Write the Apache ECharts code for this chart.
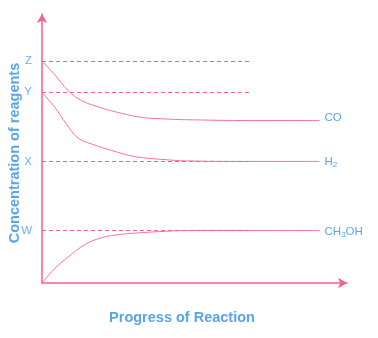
<!DOCTYPE html>
<html>
<head>
<meta charset="utf-8">
<script src="https://cdn.jsdelivr.net/npm/echarts@6/dist/echarts.min.js"></script>
<style>html,body{margin:0;padding:0;background:#fff}#c{width:378px;height:338px}</style>
</head>
<body>
<div id="c"></div>
<script>
// Tick labels on the concentration axis
const tickValues = [19.5, 45.2, 70.9, 82.5];
const tickLabels = ['W', 'X', 'Y', 'Z'];

// Progress (x) and concentration (y)
const coX = [0, 4.2, 8.6, 13, 19.5, 26, 32.6, 40, 47.4, 68, 91];
const coY = [82.5, 77.4, 71.5, 67.8, 65.1, 63.1, 61.6, 61, 60.7, 60.4, 60.4];
const h2X = [0, 4.2, 8, 11.8, 16.2, 22.8, 30.4, 40, 47.4, 68, 91];
const h2Y = [70.9, 65.3, 59.1, 53.9, 51.7, 49.3, 47, 45.9, 45.4, 45.2, 45.2];
const meX = [0, 4.2, 8.6, 14.1, 19.5, 26, 32.6, 40, 47.4, 68, 91];
const meY = [0, 5.4, 9.7, 14.3, 16.8, 18.1, 18.7, 19.2, 19.5, 19.5, 19.5];

// Reference (dashed) levels and where they stop
const refLevels = [82.5, 70.9, 45.2, 19.5];
const refEnd = 68;

const seriesNames = ['CO', 'H2', 'CH3OH'];

const pink = '#f2628f';
const curve = '#f7739c';
const blue = '#5aa5e8';
const font = '"Liberation Sans", Arial, sans-serif';

function zip(xs, ys) { return xs.map((x, i) => [x, ys[i]]); }

const chart = echarts.init(document.getElementById('c'), null, {renderer: 'canvas'});

const labelRich = {
  n: {fontSize: 11.5, color: blue, fontFamily: font},
  s: {fontSize: 8, color: blue, fontFamily: font, padding: [6, 0, 0, 0]}
};

function lineSeries(name, data, fmt, off) {
  return {
    type: 'line', name: name, data: data, smooth: 0.4,
    showSymbol: false, symbol: 'none', silent: true,
    lineStyle: {color: curve, width: 1},
    endLabel: {show: true, formatter: fmt, distance: 5, offset: off, rich: labelRich}
  };
}

chart.setOption({
  animation: false,
  grid: {left: 42, right: 31, top: 14, bottom: 55},
  xAxis: {
    type: 'value', min: 0, max: 100,
    axisLine: {show: true, lineStyle: {color: pink, width: 1.5}, symbol: ['none', 'arrow'], symbolSize: [8, 9]},
    axisTick: {show: false}, axisLabel: {show: false}, splitLine: {show: false}
  },
  yAxis: {
    type: 'value', min: 0, max: 100,
    axisLine: {show: true, lineStyle: {color: pink, width: 1.5}, symbol: ['none', 'arrow'], symbolSize: [8, 9]},
    axisTick: {show: false}, splitLine: {show: false},
    axisLabel: {
      show: true, customValues: tickValues, margin: 10,
      color: '#6fb0ec', fontSize: 11.5, fontFamily: font,
      formatter: function (v) {
        let best = 0;
        tickValues.forEach((t, i) => { if (Math.abs(t - v) < Math.abs(tickValues[best] - v)) best = i; });
        return tickLabels[best];
      }
    }
  },
  series: [
    lineSeries(seriesNames[0], zip(coX, coY), '{n|CO}', [0, -3]),
    lineSeries(seriesNames[1], zip(h2X, h2Y), '{n|H}{s|2}', [0, 0]),
    lineSeries(seriesNames[2], zip(meX, meY), '{n|CH}{s|3}{n|OH}', [0, 1]),
    {
      type: 'line', data: [], silent: true,
      markLine: {
        silent: true, symbol: ['none', 'none'], label: {show: false},
        lineStyle: {color: pink, type: [4, 3], width: 1, opacity: 1},
        emphasis: {disabled: true},
        data: refLevels.map(v => [{coord: [0, v]}, {coord: [refEnd, v]}])
      }
    }
  ],
  graphic: [
    {type: 'text', x: 182, y: 318, style: {text: 'Progress of Reaction', font: 'bold 14.5px ' + font, fill: blue, align: 'center', verticalAlign: 'middle'}},
    {type: 'text', x: 15, y: 153, rotation: Math.PI / 2, style: {text: 'Concentration of reagents', font: 'bold 14.5px ' + font, fill: blue, align: 'center', verticalAlign: 'middle'}}
  ]
});
</script>
</body>
</html>
